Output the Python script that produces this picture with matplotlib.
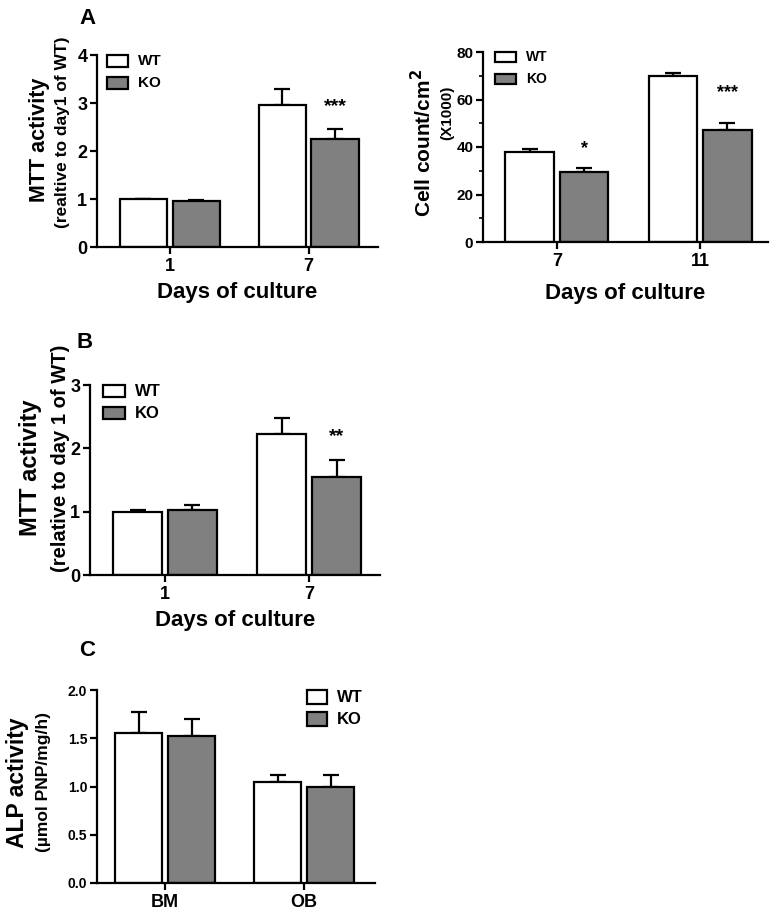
import matplotlib.pyplot as plt
from matplotlib.patches import Rectangle
from matplotlib.ticker import MultipleLocator

plt.rcParams["font.family"] = ["Liberation Sans", "DejaVu Sans"]
plt.rcParams["font.weight"] = "bold"

W, H = 777, 916
GREY = "#808080"

# panel A, left: MTT activity
a1_days = ["1", "7"]
a1_wt = [1.0, 2.95]
a1_wt_err = [0.0, 0.35]
a1_ko = [0.95, 2.25]
a1_ko_err = [0.03, 0.2]
a1_stars = ["", "***"]
a1_star_y = [0, 2.92]

# panel A, right: cell count
a2_days = ["7", "11"]
a2_wt = [38.0, 70.0]
a2_wt_err = [1.0, 1.0]
a2_ko = [29.5, 47.0]
a2_ko_err = [1.5, 3.0]
a2_stars = ["*", "***"]
a2_star_y = [39.5, 63.0]

# panel B: MTT activity
b_days = ["1", "7"]
b_wt = [1.0, 2.22]
b_wt_err = [0.02, 0.26]
b_ko = [1.03, 1.55]
b_ko_err = [0.07, 0.26]
b_stars = ["", "**"]
b_star_y = [0, 2.18]

# panel C: ALP activity
c_groups = ["BM", "OB"]
c_wt = [1.55, 1.05]
c_wt_err = [0.22, 0.07]
c_ko = [1.52, 1.0]
c_ko_err = [0.18, 0.12]

fig = plt.figure(figsize=(W / 100, H / 100), dpi=100)


def px_axes(left, right, top, bottom):
    return fig.add_axes([left / W, 1 - bottom / H, (right - left) / W, (bottom - top) / H])


def bar_panel(ax, labels, wt, wt_err, ko, ko_err, xlim, ylim, yticks, tick_fs):
    x = list(range(len(labels)))
    bw = 0.34
    off = 0.19
    xw = [i - off for i in x]
    xk = [i + off for i in x]
    ekw = dict(elinewidth=1.6, capthick=1.6, capsize=6, ecolor="black")
    ax.bar(xw, wt, bw, color="white", edgecolor="black", linewidth=1.6, zorder=2)
    ax.bar(xk, ko, bw, color=GREY, edgecolor="black", linewidth=1.6, zorder=2)
    ax.errorbar(xw, wt, yerr=[[0] * len(wt), wt_err], fmt="none", zorder=1, **ekw)
    ax.errorbar(xk, ko, yerr=[[0] * len(ko), ko_err], fmt="none", zorder=1, **ekw)
    ax.set_xlim(*xlim)
    ax.set_ylim(*ylim)
    ax.set_yticks(yticks)
    ax.set_xticks(x)
    ax.set_xticklabels(labels, fontsize=13, fontweight="bold")
    for s in ["top", "right"]:
        ax.spines[s].set_visible(False)
    for s in ["left", "bottom"]:
        ax.spines[s].set_linewidth(1.6)
    ax.tick_params(axis="y", labelsize=tick_fs, width=1.6, length=5, pad=2)
    ax.tick_params(axis="x", width=1.6, length=5, pad=3)
    for lab in ax.get_yticklabels():
        lab.set_fontweight("bold")
    ax.patch.set_alpha(0)
    return xk


def legend_boxes(ax, x0, y0, y1, bw, bh, fs):
    # legend drawn in axes coordinates
    for y, fc, name in [(y0, "white", "WT"), (y1, GREY, "KO")]:
        ax.add_patch(Rectangle((x0, y - bh / 2), bw, bh, transform=ax.transAxes,
                               facecolor=fc, edgecolor="black", linewidth=1.6, clip_on=False))
        ax.text(x0 + bw + 0.035, y, name, transform=ax.transAxes, fontsize=fs,
                fontweight="bold", va="center", ha="left")


# ---- A left
ax1 = px_axes(97, 378, 55, 247)
xk = bar_panel(ax1, a1_days, a1_wt, a1_wt_err, a1_ko, a1_ko_err, (-0.525, 1.5), (0, 4),
               [0, 1, 2, 3, 4], 13)
for xi, s, y in zip(xk, a1_stars, a1_star_y):
    ax1.text(xi, y, s, ha="center", va="center", fontsize=14, fontweight="bold")
legend_boxes(ax1, 0.035, 1 - 6 / 192, 1 - 28 / 192, 0.075, 12 / 192, 11)
ax1.set_xlabel("Days of culture", fontsize=16, fontweight="bold", labelpad=5)
fig.text(39 / W, 1 - 140 / H, "MTT activity", rotation=90, ha="center", va="center",
         fontsize=15.5, fontweight="bold")
fig.text(63 / W, 1 - 132 / H, "(realtive to day1 of WT)", rotation=90, ha="center",
         va="center", fontsize=12.5, fontweight="bold")
fig.text(87 / W, 1 - 18 / H, "A", ha="center", va="center", fontsize=16, fontweight="bold")

# ---- A right
ax2 = px_axes(483, 768, 52, 242)
xk = bar_panel(ax2, a2_days, a2_wt, a2_wt_err, a2_ko, a2_ko_err, (-0.517, 1.475), (0, 80),
               [0, 20, 40, 60, 80], 11)
ax2.yaxis.set_minor_locator(MultipleLocator(10))
ax2.tick_params(axis="y", which="minor", width=1.2, length=3)
for xi, s, y in zip(xk, a2_stars, a2_star_y):
    ax2.text(xi, y, s, ha="center", va="center", fontsize=13, fontweight="bold")
legend_boxes(ax2, 0.042, 1 - 5 / 190, 1 - 27 / 190, 0.075, 10 / 190, 10)
ax2.set_xlabel("Days of culture", fontsize=16, fontweight="bold", labelpad=9)
fig.text(423 / W, 1 - 143 / H, "Cell count/cm$^{\\mathbf{2}}$", rotation=90, ha="center",
         va="center", fontsize=15, fontweight="bold")
fig.text(447 / W, 1 - 113 / H, "(X1000)", rotation=90, ha="center", va="center",
         fontsize=11, fontweight="bold")

# ---- B
ax3 = px_axes(90, 380, 385, 575)
xk = bar_panel(ax3, b_days, b_wt, b_wt_err, b_ko, b_ko_err, (-0.52, 1.49), (0, 3),
               [0, 1, 2, 3], 13)
for xi, s, y in zip(xk, b_stars, b_star_y):
    ax3.text(xi, y, s, ha="center", va="center", fontsize=14, fontweight="bold")
legend_boxes(ax3, 0.045, 1 - 6 / 190, 1 - 28 / 190, 0.075, 12 / 190, 12)
ax3.set_xlabel("Days of culture", fontsize=16, fontweight="bold", labelpad=5)
fig.text(31 / W, 1 - 468 / H, "MTT activity", rotation=90, ha="center", va="center",
         fontsize=17, fontweight="bold")
fig.text(60 / W, 1 - 458 / H, "(relative to day 1 of WT)", rotation=90, ha="center",
         va="center", fontsize=14.5, fontweight="bold")
fig.text(85 / W, 1 - 343 / H, "B", ha="center", va="center", fontsize=16, fontweight="bold")

# ---- C
ax4 = px_axes(97, 375, 690, 883)
bar_panel(ax4, c_groups, c_wt, c_wt_err, c_ko, c_ko_err, (-0.49, 1.51), (0, 2.0),
          [0.0, 0.5, 1.0, 1.5, 2.0], 10)
ax4.set_yticklabels(["0.0", "0.5", "1.0", "1.5", "2.0"], fontweight="bold")
legend_boxes(ax4, 0.755, 1 - 7 / 193, 1 - 29 / 193, 0.072, 14 / 193, 12)
fig.text(18 / W, 1 - 783 / H, "ALP activity", rotation=90, ha="center", va="center",
         fontsize=16.5, fontweight="bold")
fig.text(44 / W, 1 - 782 / H, "(\u00b5mol PNP/mg/h)", rotation=90, ha="center",
         va="center", fontsize=12.5, fontweight="bold")
fig.text(87 / W, 1 - 650 / H, "C", ha="center", va="center", fontsize=16, fontweight="bold")

fig.savefig("out.png", dpi=100)
